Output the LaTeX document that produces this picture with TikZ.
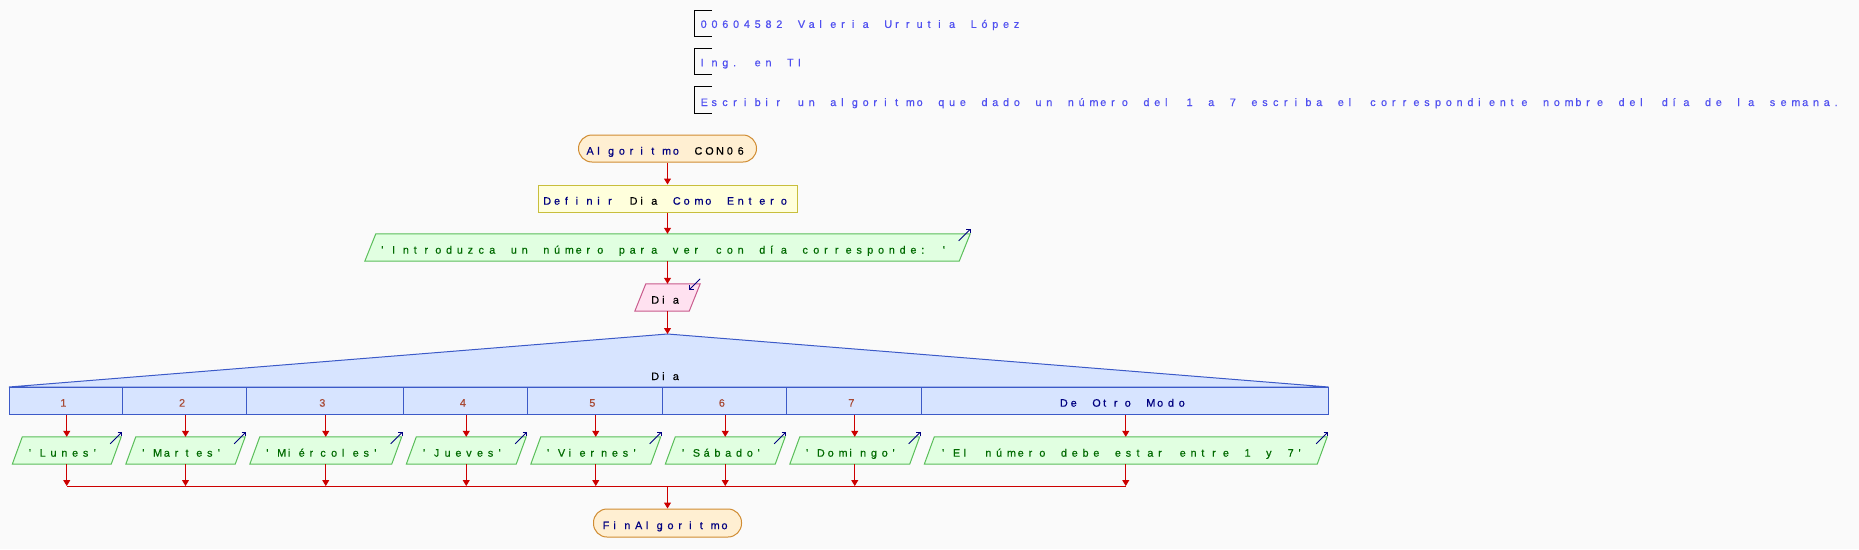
\documentclass[tikz,border=0pt]{standalone}
\usepackage{fontspec}
\newfontfamily\psf[FakeBold=0.6]{Liberation Sans}
\usetikzlibrary{arrows.meta,backgrounds,calc}
\newdimen\pscell \pscell=10.8pt
\ExplSyntaxOn
\NewDocumentCommand\pstext{m}{\str_map_inline:nn{#1}{\makebox[\pscell][l]{##1}}}
\ExplSyntaxOff
\definecolor{bgc}{HTML}{FAFAFA}
\definecolor{kw}{HTML}{000080}
\definecolor{cmt}{HTML}{5050F0}
\definecolor{strc}{HTML}{006A00}
\definecolor{numc}{HTML}{A84A34}
\definecolor{arr}{HTML}{CC0000}
\definecolor{termf}{HTML}{FFEFD2}
\definecolor{termd}{HTML}{D08C32}
\definecolor{deff}{HTML}{FFFFDC}
\definecolor{defd}{HTML}{C8BE3C}
\definecolor{outf}{HTML}{E1FFE1}
\definecolor{outd}{HTML}{5ABE5A}
\definecolor{inf}{HTML}{FFE1F0}
\definecolor{ind}{HTML}{C85A8C}
\definecolor{swf}{HTML}{D7E4FF}
\definecolor{swd}{HTML}{3C5AC8}
\tikzset{
  base/.style={inner sep=0pt, font=\psf\fontsize{10.8}{12}\selectfont, text height=12.3pt, text depth=0pt},
  term/.style={base, draw=termd, fill=termf, rounded corners=13.5pt, minimum height=27pt, line width=1pt},
  defbox/.style={base, draw=defd, fill=deff, minimum height=27pt, line width=1pt},
  iobox/.style={base, minimum height=27pt},
  cell/.style={base, draw=swd, fill=swf, minimum height=27pt, line width=1pt},
  flow/.style={draw=arr, line width=1pt, -{Triangle[width=7pt,length=6pt]}},
  mline/.style={draw=arr, line width=1pt},
  icon/.style={draw=kw, line width=0.8pt, -{Straight Barb[length=3pt,width=6pt]}},
  brk/.style={draw=black, line width=1pt}
}
\newcommand\pgram[4]{%
  \filldraw[fill=#3,draw=#4,line width=1pt] ([xshift=-#2]#1.south west) -- ([xshift=#2]#1.north west) -- ([xshift=#2]#1.north east) -- ([xshift=-#2]#1.south east) -- cycle;}
\begin{document}
\begin{tikzpicture}[x=1pt,y=-1pt]
\useasboundingbox (0,0) rectangle (1859,549);
% header comments
\draw[brk] (712,10) -- (694,10) -- (694,36) -- (712,36);
\draw[brk] (712,48) -- (694,48) -- (694,74) -- (712,74);
\draw[brk] (712,86) -- (694,86) -- (694,113) -- (712,113);
\node[base, anchor=base west, text=cmt] (h1) at (700.5,27.9) {\pstext{00604582 Valeria Urrutia López}};
\node[base, anchor=base west, text=cmt] (h2) at (700.5,66.3) {\pstext{Ing. en TI}};
\node[base, anchor=base west, text=cmt] (h3) at (700.5,106) {\pstext{Escribir un algoritmo que dado un número del 1 a 7 escriba el correspondiente nombre del día de la semana.}};
% main column
\node[term, minimum width=178pt] (alg) at (667.5,148.5) {{\color{kw}\pstext{Algoritmo }}{\color{black}\pstext{CON06}}};
\node[defbox, minimum width=259pt] (def) at (667.5,198.5) {{\color{kw}\pstext{Definir }}{\color{black}\pstext{Dia}}{\color{kw}\pstext{ Como Entero}}};
\node[iobox, minimum width=594pt, text=strc] (intro) at (667.5,247.5) {\pstext{'Introduzca un número para ver con día corresponde: '}};
\node[iobox, minimum width=54pt, text=black] (dia) at (667.5,297.5) {\pstext{Dia}};
\coordinate (apex) at (667.5,334);
\node[base, anchor=base, text=black] (swl) at (667.5,380) {\pstext{Dia}};
% case cells
\node[cell, minimum width=113.5pt, text=numc] (c1) at (65.75,400.5) {\pstext{1}};
\node[cell, minimum width=124pt, text=numc] (c2) at (184.5,400.5) {\pstext{2}};
\node[cell, minimum width=156.5pt, text=numc] (c3) at (324.75,400.5) {\pstext{3}};
\node[cell, minimum width=124.5pt, text=numc] (c4) at (465.25,400.5) {\pstext{4}};
\node[cell, minimum width=134.5pt, text=numc] (c5) at (594.75,400.5) {\pstext{5}};
\node[cell, minimum width=124.5pt, text=numc] (c6) at (724.25,400.5) {\pstext{6}};
\node[cell, minimum width=134.5pt, text=numc] (c7) at (853.75,400.5) {\pstext{7}};
\node[cell, minimum width=407.5pt, text=kw] (c8) at (1124.75,400.5) {\pstext{De Otro Modo}};
% outputs
\node[iobox, minimum width=98.5pt, text=strc] (o1) at (66.75,450.5) {\pstext{'Lunes'}};
\node[iobox, minimum width=109pt, text=strc] (o2) at (185.5,450.5) {\pstext{'Martes'}};
\node[iobox, minimum width=141.5pt, text=strc] (o3) at (325.75,450.5) {\pstext{'Miércoles'}};
\node[iobox, minimum width=109.5pt, text=strc] (o4) at (466.25,450.5) {\pstext{'Jueves'}};
\node[iobox, minimum width=119.5pt, text=strc] (o5) at (595.75,450.5) {\pstext{'Viernes'}};
\node[iobox, minimum width=109.5pt, text=strc] (o6) at (725.25,450.5) {\pstext{'Sábado'}};
\node[iobox, minimum width=119.5pt, text=strc] (o7) at (854.75,450.5) {\pstext{'Domingo'}};
\node[iobox, minimum width=392.5pt, text=strc] (o8) at (1125.75,450.5) {\pstext{'El número debe estar entre 1 y 7'}};
\coordinate (mL) at (66.75,486);
\coordinate (mR) at (1125.75,486);
\coordinate (mC) at (667.5,486);
\node[term, minimum width=148pt, minimum height=28pt] (fin) at (667.5,523) {{\color{kw}\pstext{FinAlgoritmo}}};
% background shapes
\begin{scope}[on background layer]
  \fill[bgc] (0,0) rectangle (1859,549);
  \filldraw[fill=swf, draw=swd, line width=1pt] (9,387) -- (apex) -- (1328.5,387) -- cycle;
  \pgram{intro}{5.5}{outf}{outd}
  \pgram{dia}{5.5}{inf}{ind}
  \foreach \n in {o1,o2,o3,o4,o5,o6,o7,o8}{\pgram{\n}{5}{outf}{outd}}
\end{scope}
% flow
\draw[flow] (alg) -- (def);
\draw[flow] (def) -- (intro);
\draw[flow] (intro) -- (dia);
\draw[flow] (dia) -- (apex);
\foreach \i in {1,...,8}{
  \draw[flow] (o\i.north |- c\i.south) -- (o\i.north);
  \draw[flow] (o\i.south) -- (o\i.south |- mL);
}
\draw[mline] (mL) -- (mR);
\draw[flow] (mC) -- (fin);
% io icons
\draw[icon] ([shift={(-6,7)}]intro.north east) -- ([shift={(6,-5)}]intro.north east);
\draw[icon] ([shift={(5.5,-5)}]dia.north east) -- ([shift={(-5.5,6)}]dia.north east);
\foreach \i in {1,...,8}{
  \draw[icon] ([shift={(-6,7)}]o\i.north east) -- ([shift={(6,-5)}]o\i.north east);
}
\end{tikzpicture}
\end{document}
